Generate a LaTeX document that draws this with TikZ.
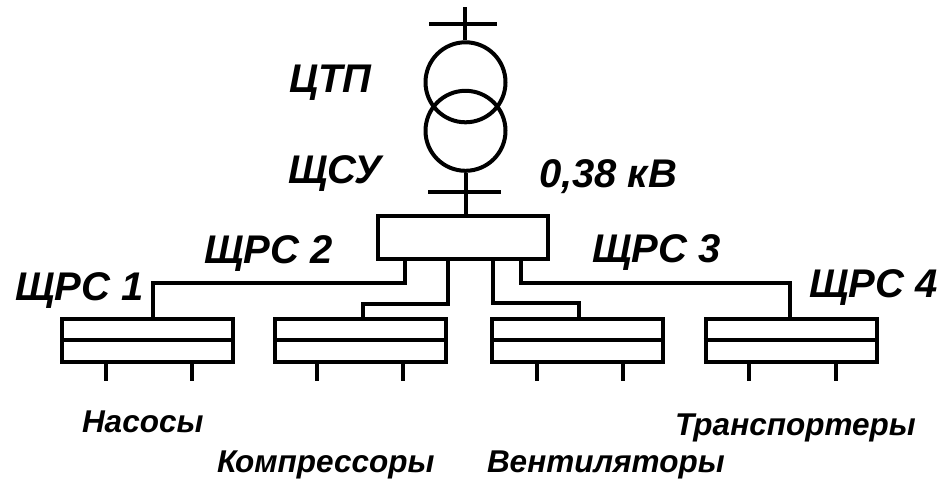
\documentclass[tikz,border=0pt]{standalone}
\usepackage{fontspec}
\setmainfont{Liberation Sans}
\begin{document}
\begin{tikzpicture}[x=1pt,y=-1pt,line width=4pt,
  lbl/.style={anchor=base west,inner sep=0pt,font=\fontsize{40}{40}\selectfont\bfseries\itshape},
  sml/.style={anchor=base west,inner sep=0pt,font=\fontsize{31.5}{31.5}\selectfont\bfseries\itshape},
  wire/.style={draw,line width=4pt},
  coil/.style={draw,circle,line width=4pt,minimum size=80pt,inner sep=0pt},
  panel/.style={draw,rectangle,line width=4pt,minimum width=171pt,minimum height=43pt,inner sep=0pt}]
\useasboundingbox (0,0) rectangle (940,479);
% transformer
\coordinate (t0) at (465,7);
\coordinate (tb1) at (429,24);
\coordinate (tb2) at (497,24);
\node[coil] (c1) at (465.5,82.3) {};
\node[coil] (c2) at (465.5,130.8) {};
\coordinate (bb1) at (428,192.3);
\coordinate (bb2) at (501,192.3);
\node[draw,rectangle,line width=4pt,minimum width=170pt,minimum height=42.4pt,inner sep=0pt] (shu) at (462.7,237.5) {};
\draw[wire] (t0) -- (t0 |- c1.north);
\draw[wire] (tb1) -- (tb2);
\draw[wire] (c2.south) -- (c2.south |- shu.north);
\draw[wire] (bb1) -- (bb2);
% distribution panels
\node[panel] (r1) at (147.9,340.4) {};
\node[panel] (r2) at (360.3,340.4) {};
\node[panel] (r3) at (577.5,340.4) {};
\node[panel] (r4) at (791,340.4) {};
\foreach \r in {r1,r2,r3,r4}{
  \draw[wire] (\r.west) -- (\r.east);
}
% legs
\foreach \r/\a/\b in {r1/106/192.3,r2/316.7/403.3,r3/537/623,r4/749/835.7}{
  \draw[wire] (\a,0 |- \r.south) -- (\a,380.7);
  \draw[wire] (\b,0 |- \r.south) -- (\b,380.7);
}
% feeders
\draw[wire] (405.3,0 |- shu.south) |- (153,283.3) -- (153,0 |- r1.north);
\draw[wire] (447.7,0 |- shu.south) |- (363,303.5) -- (363,0 |- r2.north);
\draw[wire] (493,0 |- shu.south) |- (579,303.3) -- (579,0 |- r3.north);
\draw[wire] (521.3,0 |- shu.south) |- (790,283.3) -- (790,0 |- r4.north);
% labels
\node[lbl] (ltp) at (287,92) {ЦТП};
\node[lbl] (lsu) at (286,183) {ЩСУ};
\node[lbl] (lkv) at (537,187) {0,38 кВ};
\node[lbl] (l2) at (202,263) {ЩРС 2};
\node[lbl] (l1) at (13,300) {ЩРС 1};
\node[lbl] (l3) at (590,262) {ЩРС 3};
\node[lbl] (l4) at (807,297) {ЩРС 4};
\node[sml] (n1) at (80,432) {Насосы};
\node[sml] (n2) at (215,472) {Компрессоры};
\node[sml] (n3) at (485,472) {Вентиляторы};
\node[sml] (n4) at (673,435) {Транспортеры};
\end{tikzpicture}
\end{document}
